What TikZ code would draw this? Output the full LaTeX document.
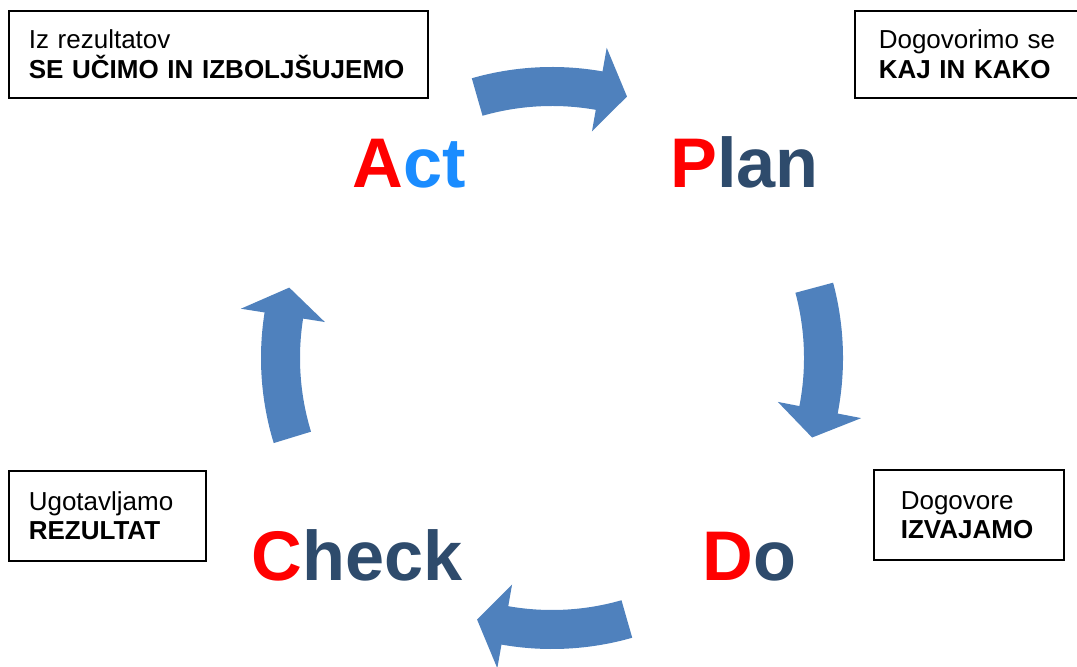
\documentclass[tikz,border=0pt]{standalone}
\usepackage{fontspec}
\setmainfont{Liberation Sans}
\usetikzlibrary{positioning,calc}

\definecolor{pdcared}{HTML}{FF0000}
\definecolor{pdcanavy}{HTML}{2E4B6C}
\definecolor{pdcasky}{HTML}{1A8CFF}
\definecolor{pdcaarrow}{HTML}{4F81BD}

\tikzset{
  notebox/.style={draw=black, line width=0.9pt, anchor=north west, align=left,
    inner ysep=0pt, font=\fontsize{14.8}{16.6}\selectfont},
  bigword/.style={anchor=base west, inner sep=0pt,
    font=\fontsize{40}{44}\selectfont\bfseries, text=pdcanavy},
  cyclearrow/.style={fill=pdcaarrow}
}

% one curved block arrow, turning clockwise round the hub
\newcommand\pdcaarrow[1]{%
  \fill[cyclearrow] ($(hub)+(#1+16:291)$) arc[start angle=#1+16, end angle=#1-10, radius=291]
    -- ($(hub)+(#1-10:315)$) -- ($(hub)+(#1-16:272)$) -- ($(hub)+(#1-10:230)$)
    -- ($(hub)+(#1-10:252)$) arc[start angle=#1-10, end angle=#1+16, radius=252] -- cycle;}

\begin{document}
\begin{tikzpicture}[x=0.02cm, y=0.02cm]
\useasboundingbox (0,0) rectangle (1077,666);
\coordinate (hub) at (552,308);

% Arrows
\pdcaarrow{90}
\pdcaarrow{-1}
\pdcaarrow{-90}
\pdcaarrow{181}

% Cycle words
\node[bigword] (act) at (352,478) {\textcolor{pdcared}{A}\textcolor{pdcasky}{ct}};
\node[bigword] (plan) at (670,478) {\textcolor{pdcared}{P}lan};
\node[bigword] (do) at (702,86) {\textcolor{pdcared}{D}o};
\node[bigword] (check) at (251,86) {\textcolor{pdcared}{C}heck};

% Boxes
\node[notebox, inner xsep=0.4cm, text width=7.58cm, minimum height=1.74cm] (learn) at (8,656)
  {Iz rezultatov\\\mbox{\textbf{SE UČIMO IN IZBOLJŠUJEMO}}};
\node[notebox, inner xsep=0.48cm, text width=3.8cm, minimum height=1.74cm] (agree) at (854,656)
  {Dogovorimo se\\\textbf{KAJ IN KAKO}};
\node[notebox, inner xsep=0.54cm, text width=2.72cm, minimum height=1.8cm] (carry) at (873,197)
  {Dogovore\\\textbf{IZVAJAMO}};
\node[notebox, inner xsep=0.4cm, text width=3.14cm, minimum height=1.8cm] (result) at (8,196)
  {Ugotavljamo\\\textbf{REZULTAT}};
\end{tikzpicture}
\end{document}
